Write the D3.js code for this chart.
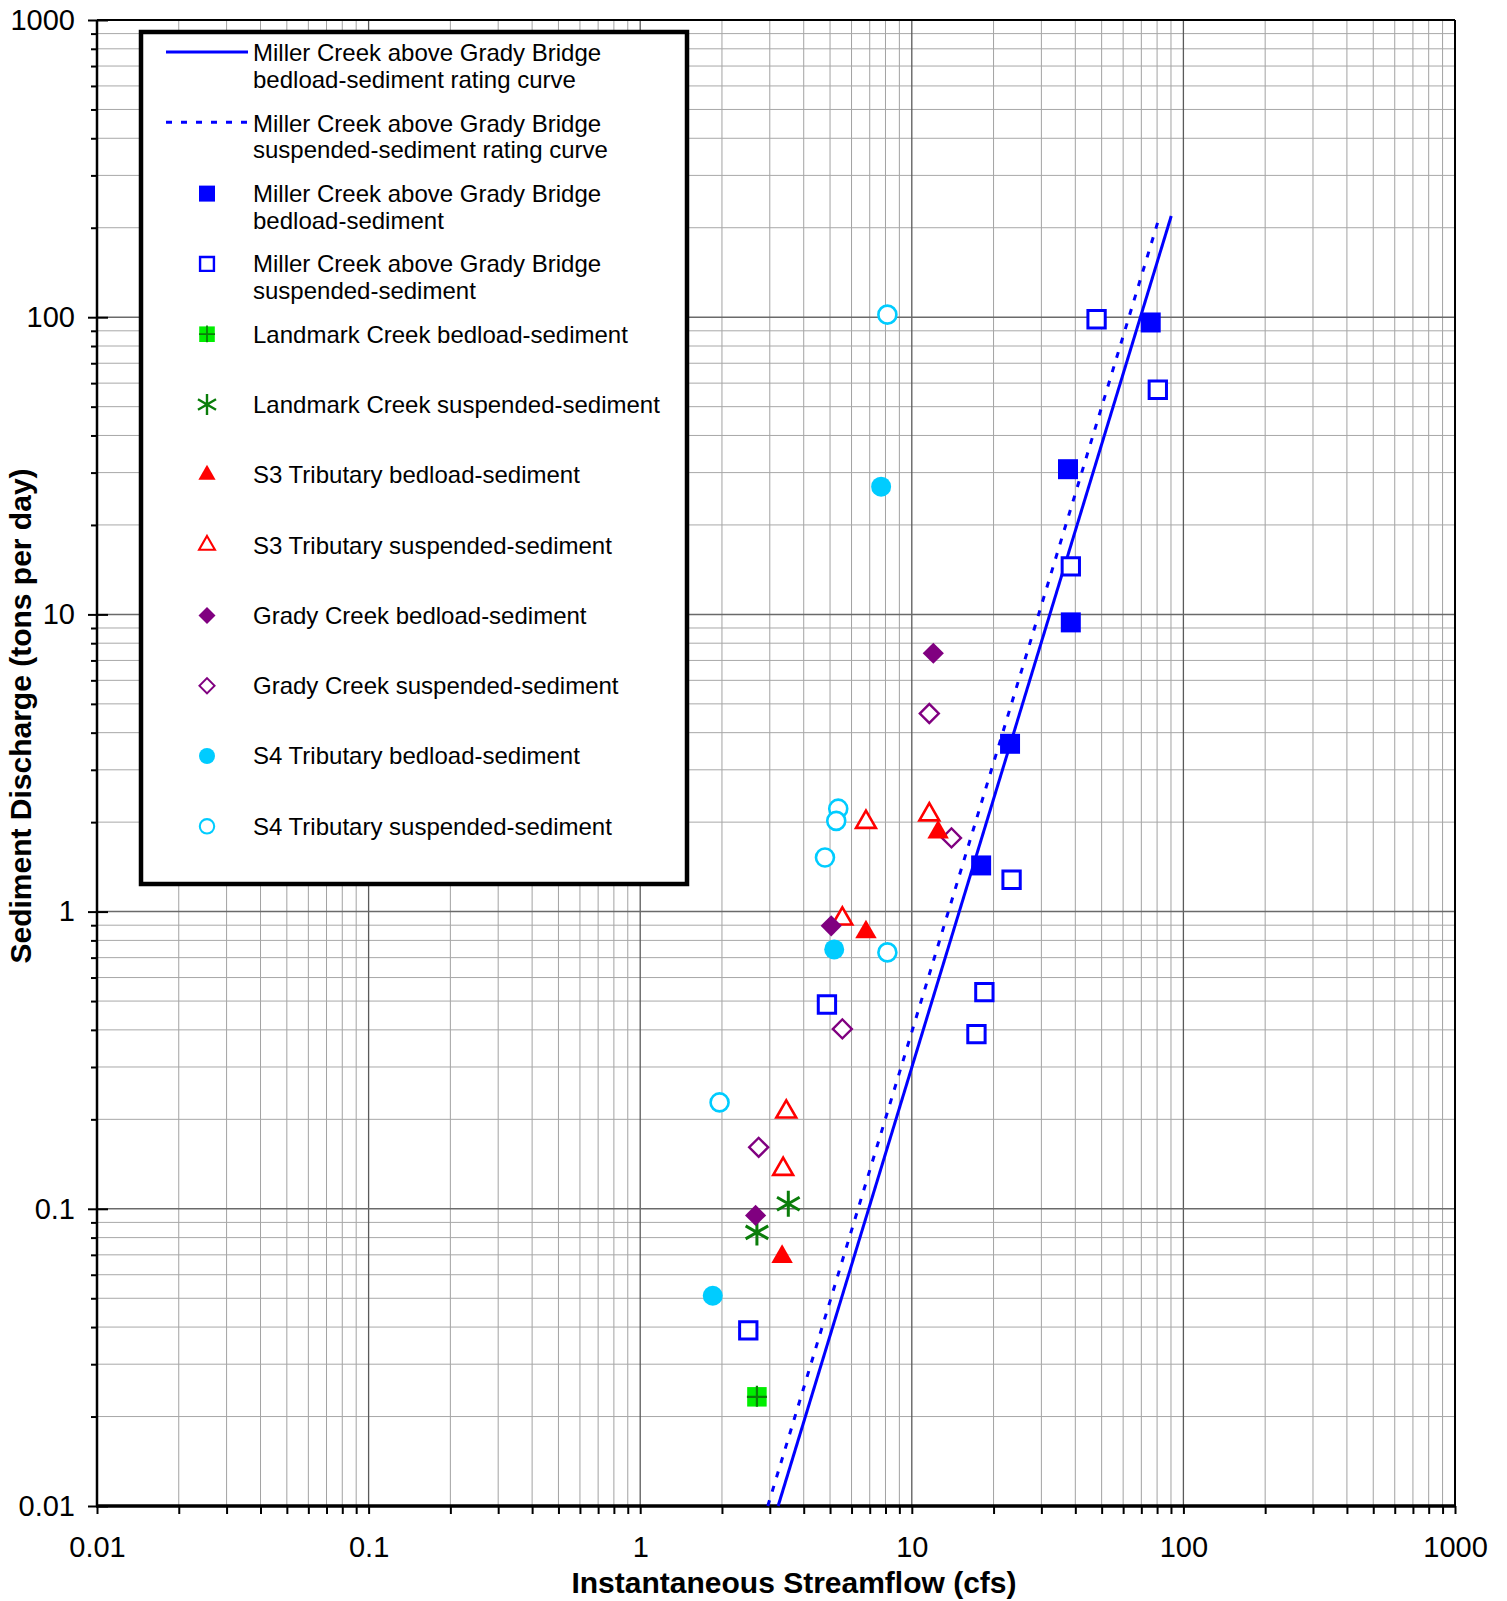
<!DOCTYPE html>
<html>
<head>
<meta charset="utf-8">
<script src="https://cdn.jsdelivr.net/npm/d3@7"></script>
<style>
  body { margin: 0; background: #fff; }
  svg text { font-family: Arial, "Liberation Sans", sans-serif; }
</style>
</head>
<body>
<div id="chart"></div>
<script>
// streamflow (cfs) / sediment discharge (tons per day)
const millerBedQ = [75.8, 37.6, 38.5, 23.0, 18.0];
const millerBedS = [96, 30.8, 9.4, 3.67, 1.43];
const millerSusQ = [47.9, 80.5, 38.5, 23.3, 18.5, 17.3, 4.87, 2.50];
const millerSusS = [98.4, 57, 14.5, 1.28, 0.536, 0.387, 0.487, 0.039];
const landBedQ = [2.69];
const landBedS = [0.0233];
const landSusQ = [2.69, 3.51];
const landSusS = [0.0833, 0.104];
const s3BedQ = [12.5, 6.78, 3.33];
const s3BedS = [1.85, 0.853, 0.069];
const s3SusQ = [6.78, 11.6, 5.55, 3.45, 3.36];
const s3SusS = [2.0, 2.12, 0.946, 0.212, 0.136];
const gradyBedQ = [12.0, 5.05, 2.66];
const gradyBedS = [7.4, 0.896, 0.095];
const gradySusQ = [11.6, 14.0, 5.55, 2.73];
const gradySusS = [4.64, 1.77, 0.403, 0.161];
const s4BedQ = [7.71, 5.18, 1.85];
const s4BedS = [26.9, 0.746, 0.051];
const s4SusQ = [8.13, 5.36, 5.27, 4.79, 8.13, 1.96];
const s4SusS = [102, 2.22, 2.02, 1.52, 0.729, 0.228];

// rating curves (end points)
const bedCurveQ = [3.22, 90.2];
const bedCurveS = [0.01, 219];
const susCurveQ = [2.95, 80.5];
const susCurveS = [0.01, 209];

const majorTicks = [0.01, 0.1, 1, 10, 100, 1000];
const tickLabels = ["0.01", "0.1", "1", "10", "100", "1000"];

const legendLabels = [
  ["Miller Creek above Grady Bridge", "bedload-sediment rating curve"],
  ["Miller Creek above Grady Bridge", "suspended-sediment rating curve"],
  ["Miller Creek above Grady Bridge", "bedload-sediment"],
  ["Miller Creek above Grady Bridge", "suspended-sediment"],
  ["Landmark Creek bedload-sediment"],
  ["Landmark Creek suspended-sediment"],
  ["S3 Tributary bedload-sediment"],
  ["S3 Tributary suspended-sediment"],
  ["Grady Creek bedload-sediment"],
  ["Grady Creek suspended-sediment"],
  ["S4 Tributary bedload-sediment"],
  ["S4 Tributary suspended-sediment"]
];

let margin = {top: 20, right: 52, bottom: 95, left: 97},
    width = 1507 - margin.left - margin.right,
    height = 1601 - margin.top - margin.bottom;

let svg = d3.select("#chart")
  .append("svg")
  .attr("width", 1507)
  .attr("height", 1601);

let g = svg.append("g")
  .attr("transform", "translate(" + margin.left + "," + margin.top + ")");

let x = d3.scaleLog().domain([0.01, 1000]).range([0, width]);
let y = d3.scaleLog().domain([0.01, 1000]).range([height, 0]);

let minorTicks = x.ticks().filter(d => !majorTicks.some(m => Math.abs(m - d) / m < 1e-6));

// grid
g.append("g").selectAll("line.vmin")
  .data(minorTicks).enter().append("line")
  .attr("x1", d => x(d)).attr("x2", d => x(d))
  .attr("y1", 0).attr("y2", height)
  .attr("stroke", "#a2a2a2").attr("stroke-width", 1);
g.append("g").selectAll("line.hmin")
  .data(minorTicks).enter().append("line")
  .attr("y1", d => y(d)).attr("y2", d => y(d))
  .attr("x1", 0).attr("x2", width)
  .attr("stroke", "#a8a8a8").attr("stroke-width", 1);
g.append("g").selectAll("line.vmaj")
  .data(majorTicks).enter().append("line")
  .attr("x1", d => x(d)).attr("x2", d => x(d))
  .attr("y1", 0).attr("y2", height)
  .attr("stroke", "#5a5a5a").attr("stroke-width", 1.3);
g.append("g").selectAll("line.hmaj")
  .data(majorTicks).enter().append("line")
  .attr("y1", d => y(d)).attr("y2", d => y(d))
  .attr("x1", 0).attr("x2", width)
  .attr("stroke", "#6a6a6a").attr("stroke-width", 1.5);

// axes
let fmt = d => tickLabels[majorTicks.indexOf(d)];

g.append("g")
  .attr("class", "axis")
  .call(d3.axisLeft(y).tickValues(minorTicks).tickSize(6).tickFormat(""));
g.append("g")
  .attr("class", "axis")
  .call(d3.axisLeft(y).tickValues(majorTicks).tickSize(9).tickPadding(13).tickFormat(fmt));
g.append("g")
  .attr("class", "axis")
  .call(d3.axisRight(y).tickValues(majorTicks).tickSize(11).tickFormat(""));

g.append("g")
  .attr("class", "axis")
  .attr("transform", "translate(0," + height + ")")
  .call(d3.axisBottom(x).tickValues(minorTicks).tickSize(8).tickFormat(""));
g.append("g")
  .attr("class", "axis")
  .attr("transform", "translate(0," + height + ")")
  .call(d3.axisBottom(x).tickValues(majorTicks).tickSize(8).tickPadding(22).tickFormat(fmt));

g.selectAll(".axis path").remove();
g.selectAll(".axis line").attr("stroke", "#000").attr("stroke-width", 2);
g.selectAll(".axis text").style("font-size", "29px").attr("fill", "#000");

// frame
g.append("line").attr("x1", 0).attr("x2", width).attr("y1", 0).attr("y2", 0)
  .attr("stroke", "#000").attr("stroke-width", 2);
g.append("line").attr("x1", width).attr("x2", width).attr("y1", 0).attr("y2", height)
  .attr("stroke", "#000").attr("stroke-width", 2);
g.append("line").attr("x1", 0).attr("x2", 0).attr("y1", 0).attr("y2", height)
  .attr("stroke", "#000").attr("stroke-width", 2.5);
g.append("line").attr("x1", -1).attr("x2", width + 1).attr("y1", height).attr("y2", height)
  .attr("stroke", "#000").attr("stroke-width", 3.5);

// titles
svg.append("text")
  .attr("x", 794)
  .attr("y", 1593)
  .attr("text-anchor", "middle")
  .style("font-size", "30px")
  .style("font-weight", "bold")
  .text("Instantaneous Streamflow (cfs)");

svg.append("text")
  .attr("transform", "translate(31,716) rotate(-90)")
  .attr("text-anchor", "middle")
  .style("font-size", "30px")
  .style("font-weight", "bold")
  .text("Sediment Discharge (tons per day)");

// legend box (drawn before data so points sit on top where they overlap)
svg.append("rect")
  .attr("x", 141).attr("y", 32)
  .attr("width", 546).attr("height", 852)
  .attr("fill", "#fff").attr("stroke", "#000").attr("stroke-width", 4.5);

// rating curves
let curve = d3.line().x(d => x(d[0])).y(d => y(d[1]));
g.append("path")
  .datum(d3.zip(susCurveQ, susCurveS))
  .attr("d", curve)
  .attr("fill", "none").attr("stroke", "#0000ff").attr("stroke-width", 3)
  .attr("stroke-dasharray", "6,9");
g.append("path")
  .datum(d3.zip(bedCurveQ, bedCurveS))
  .attr("d", curve)
  .attr("fill", "none").attr("stroke", "#0000ff").attr("stroke-width", 3);

// marker styles
const BLUE = "#0000ff", RED = "#ff0000", PURPLE = "#800080", CYAN = "#00ccff",
      GREEN = "#00ee00", DKGREEN = "#0a7d0a";

function drawMarker(sel, type, s) {
  // s = scale (1 for plot, smaller for legend)
  if (type === "sqFill") {
    sel.append("path").attr("d", d3.symbol(d3.symbolSquare, 400 * s * s)())
      .attr("fill", BLUE);
  } else if (type === "sqOpen") {
    sel.append("path").attr("d", d3.symbol(d3.symbolSquare, 300 * s * s)())
      .attr("fill", "#fff").attr("stroke", BLUE).attr("stroke-width", 3 * s);
  } else if (type === "landBed") {
    sel.append("path").attr("d", d3.symbol(d3.symbolSquare, 380 * s * s)())
      .attr("fill", GREEN);
    sel.append("path").attr("d", "M" + (-10 * s) + ",0H" + (10 * s) + "M0," + (-11 * s) + "V" + (10 * s))
      .attr("stroke", DKGREEN).attr("stroke-width", 2.2 * s);
  } else if (type === "landSus") {
    sel.append("path").attr("d", d3.symbol(d3.symbolAsterisk, 480 * s * s)())
      .attr("fill", "none").attr("stroke", DKGREEN).attr("stroke-width", 3 * s);
  } else if (type === "triFill") {
    sel.append("path").attr("d", d3.symbol(d3.symbolTriangle, 200 * s * s)())
      .attr("fill", RED);
  } else if (type === "triOpen") {
    sel.append("path").attr("d", d3.symbol(d3.symbolTriangle, 170 * s * s)())
      .attr("fill", "#fff").attr("stroke", RED).attr("stroke-width", 2.6 * s);
  } else if (type === "diaFill") {
    sel.append("path").attr("d", d3.symbol(d3.symbolSquare, 225 * s * s)())
      .attr("transform", "rotate(45)").attr("fill", PURPLE);
  } else if (type === "diaOpen") {
    sel.append("path").attr("d", d3.symbol(d3.symbolSquare, 180 * s * s)())
      .attr("transform", "rotate(45)")
      .attr("fill", "#fff").attr("stroke", PURPLE).attr("stroke-width", 2.4 * s);
  } else if (type === "cirFill") {
    sel.append("circle").attr("r", 10 * s).attr("fill", CYAN);
  } else if (type === "cirOpen") {
    sel.append("circle").attr("r", 9 * s)
      .attr("fill", "#fff").attr("stroke", CYAN).attr("stroke-width", 2.6 * s);
  }
}

const series = [
  {q: millerSusQ, s: millerSusS, type: "sqOpen"},
  {q: s4SusQ, s: s4SusS, type: "cirOpen"},
  {q: gradySusQ, s: gradySusS, type: "diaOpen"},
  {q: s3SusQ, s: s3SusS, type: "triOpen"},
  {q: landSusQ, s: landSusS, type: "landSus"},
  {q: s4BedQ, s: s4BedS, type: "cirFill"},
  {q: gradyBedQ, s: gradyBedS, type: "diaFill"},
  {q: s3BedQ, s: s3BedS, type: "triFill"},
  {q: landBedQ, s: landBedS, type: "landBed"},
  {q: millerBedQ, s: millerBedS, type: "sqFill"}
];

series.forEach(function(ser) {
  let pts = g.append("g").selectAll("g")
    .data(d3.zip(ser.q, ser.s))
    .enter().append("g")
    .attr("transform", d => "translate(" + x(d[0]) + "," + y(d[1]) + ")");
  pts.each(function() { drawMarker(d3.select(this), ser.type, 1); });
});

// legend entries
const legendTypes = ["line", "dash", "sqFill", "sqOpen", "landBed", "landSus",
                     "triFill", "triOpen", "diaFill", "diaOpen", "cirFill", "cirOpen"];
let leg = svg.append("g");
legendLabels.forEach(function(lines, i) {
  let cy = 53 + i * 70.3;
  let type = legendTypes[i];
  if (type === "line" || type === "dash") {
    leg.append("line")
      .attr("x1", 166).attr("x2", 248).attr("y1", cy - 1).attr("y2", cy - 1)
      .attr("stroke", BLUE).attr("stroke-width", 3)
      .attr("stroke-dasharray", type === "dash" ? "6,9" : null);
  } else {
    let m = leg.append("g").attr("transform", "translate(207," + cy + ")");
    drawMarker(m, type, 0.8);
  }
  lines.forEach(function(t, j) {
    leg.append("text")
      .attr("x", 253)
      .attr("y", cy + j * 26.5)
      .attr("dy", "0.35em")
      .style("font-size", "24px")
      .attr("fill", "#000")
      .text(t);
  });
});
</script>
</body>
</html>
